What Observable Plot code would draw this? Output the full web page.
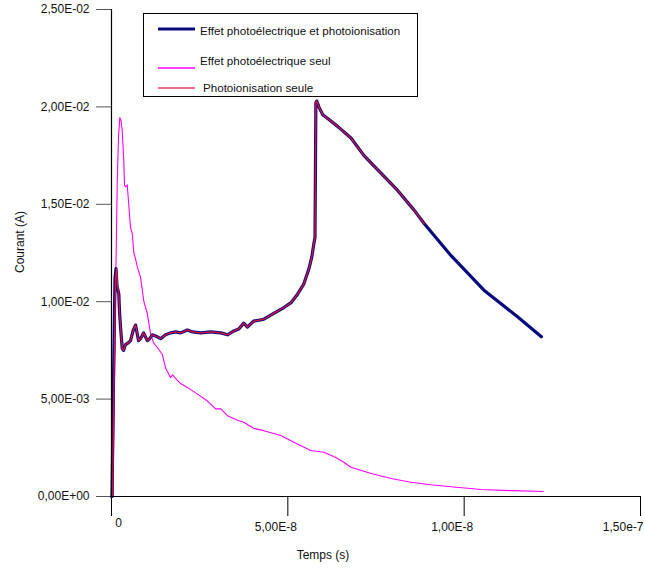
<!DOCTYPE html>
<html>
<head>
<meta charset="utf-8">
<script src="https://cdn.jsdelivr.net/npm/d3@7"></script>
<script src="https://cdn.jsdelivr.net/npm/@observablehq/plot@0.6"></script>
<style>
  html, body { margin: 0; padding: 0; background: #fff; }
  svg { font-family: "Liberation Sans", Arial, sans-serif; }
</style>
</head>
<body>
<div id="chart"></div>
<script>
// Time in nanoseconds, current in amperes
const combinedT = [0, 0.14, 0.57, 0.99, 1.28, 1.56, 2.07, 2.27, 2.56, 3.04, 3.41, 3.98, 4.83, 5.40, 6.11, 6.82, 7.24, 7.67, 8.24, 9.09, 10.14, 10.8, 11.56, 12.98, 13.92, 15.34, 16.76, 18.18, 19.6, 21.5, 23.0, 25.3, 28.1, 31.0, 32.9, 34.7, 36.1, 37.5, 38.55, 40.3, 43.2, 46.0, 48.9, 50.9, 52.8, 54.5, 56.0, 56.8, 57.4, 57.7, 57.95, 58.2, 58.8, 59.9, 61.3, 64.1, 67.9, 71.6, 76.4, 81.2, 85.8, 88.7, 96.3, 105.8, 115.3, 121.9];
const combinedI = [0, 0, 0.0060, 0.0112, 0.0117, 0.0108, 0.0104, 0.0095, 0.0087, 0.0076, 0.0075, 0.0078, 0.0079, 0.0080, 0.0085, 0.0088, 0.0084, 0.0080, 0.0081, 0.0084, 0.0080, 0.0081, 0.0083, 0.0082, 0.0081, 0.0083, 0.0084, 0.00845, 0.0084, 0.00855, 0.00845, 0.0084, 0.00845, 0.0084, 0.0083, 0.0085, 0.0086, 0.0089, 0.0087, 0.0090, 0.0091, 0.0094, 0.0097, 0.00995, 0.0104, 0.0109, 0.0117, 0.0123, 0.0130, 0.0133, 0.0202, 0.0203, 0.0200, 0.0196, 0.0194, 0.0190, 0.0184, 0.0175, 0.0166, 0.0157, 0.0147, 0.0140, 0.01236, 0.01056, 0.0092, 0.0082];

const photoionT = [0.28, 0.71, 1.13, 1.42, 1.70, 2.07, 2.27, 2.56, 3.04, 3.41, 3.98, 4.83, 5.40, 6.11, 6.82, 7.24, 7.67, 8.24, 9.09, 10.14, 10.8, 11.56, 12.98, 13.92, 15.34, 16.76, 18.18, 19.6, 21.5, 23.0, 25.3, 28.1, 31.0, 32.9, 34.7, 36.1, 37.5, 38.55, 40.3, 43.2, 46.0, 48.9, 50.9, 52.8, 54.5, 56.0, 56.8, 57.4, 57.7, 57.95, 58.2, 58.8, 59.9, 61.3, 64.1, 67.9, 71.6, 76.4, 81.2, 85.8, 88.7];
const photoionI = [0, 0.0060, 0.0112, 0.0117, 0.0108, 0.0104, 0.0095, 0.0087, 0.0076, 0.0075, 0.0078, 0.0079, 0.0080, 0.0085, 0.0088, 0.0084, 0.0080, 0.0081, 0.0084, 0.0080, 0.0081, 0.0083, 0.0082, 0.0081, 0.0083, 0.0084, 0.00845, 0.0084, 0.00855, 0.00845, 0.0084, 0.00845, 0.0084, 0.0083, 0.0085, 0.0086, 0.0089, 0.0087, 0.0090, 0.0091, 0.0094, 0.0097, 0.00995, 0.0104, 0.0109, 0.0117, 0.0123, 0.0130, 0.0133, 0.0202, 0.0203, 0.0200, 0.0196, 0.0194, 0.0190, 0.0184, 0.0175, 0.0166, 0.0157, 0.0147, 0.0140];

const photoelecT = [0.43, 0.85, 1.28, 1.62, 1.99, 2.36, 2.7, 3.04, 3.49, 3.69, 3.98, 4.46, 4.97, 5.40, 5.88, 6.34, 6.82, 7.30, 8.24, 9.18, 10.14, 11.08, 11.9, 12.98, 14.4, 15.34, 16.76, 17.3, 18.5, 19.6, 21.5, 24.3, 27.2, 29.5, 31.0, 32.9, 35.2, 37.5, 40.3, 43.2, 48.0, 51.7, 56.5, 60.2, 63.6, 65.9, 67.9, 73.6, 79.3, 84.9, 90.6, 96.3, 104.8, 113.4, 122.4];
const photoelecI = [0, 0.0060, 0.0120, 0.0160, 0.0185, 0.01945, 0.0193, 0.0188, 0.0172, 0.0160, 0.0159, 0.0160, 0.0148, 0.0138, 0.0135, 0.0125, 0.0122, 0.0118, 0.01125, 0.0100, 0.0094, 0.00835, 0.0079, 0.00765, 0.0073, 0.0066, 0.0061, 0.00625, 0.0060, 0.0058, 0.0056, 0.00527, 0.0049, 0.0045, 0.0045, 0.00415, 0.00395, 0.00381, 0.0035, 0.00338, 0.00313, 0.00278, 0.00236, 0.00227, 0.0020, 0.00176, 0.0015, 0.00118, 0.00092, 0.00073, 0.0006, 0.0005, 0.00036, 0.0003, 0.00026];

const xTicks = [0, 50, 100, 150];
const xTickLabels = ["0", "5,00E-8", "1,00E-8", "1,50e-7"];
const yTicks = [0, 0.005, 0.01, 0.015, 0.02, 0.025];
const yTickLabels = ["0,00E+00", "5,00E-03", "1,00E-02", "1,50E-02", "2,00E-02", "2,50E-02"];

const legendNames = ["Effet photoélectrique et photoionisation", "Effet photoélectrique seul", "Photoionisation seule"];
const colors = ["#0a0a80", "#ff00ff", "#d8143c"];

const toRows = (T, I) => T.map((t, i) => ({t, v: I[i]}));
const combined = toRows(combinedT, combinedI);
const photoion = toRows(photoionT, photoionI);
const photoelec = toRows(photoelecT, photoelecI);

const plot = Plot.plot({
  width: 645,
  height: 568,
  marginLeft: 111,
  marginRight: 5,
  marginTop: 9,
  marginBottom: 72,
  x: {domain: [0, 150]},
  y: {domain: [0, 0.025]},
  style: {fontFamily: "Liberation Sans, Arial, sans-serif", fontSize: "12px", background: "#fff"},
  marks: [
    Plot.axisY({ticks: yTicks, tickFormat: d => yTickLabels[yTicks.indexOf(d)], tickSize: 15, tickPadding: 7, stroke: "#555", fill: "#111", fontSize: 12, label: null}),
    Plot.axisX({ticks: xTicks, tickFormat: () => "", tickSize: 20, stroke: "#000", label: null}),
    Plot.text(xTicks.slice(1, 3), {x: d => d, text: d => xTickLabels[xTicks.indexOf(d)], frameAnchor: "bottom", dy: 34, dx: -12, fontSize: 12, fill: "#111"}),
    Plot.text(xTicks.slice(3), {x: d => d, text: d => xTickLabels[xTicks.indexOf(d)], frameAnchor: "bottom", dy: 34, dx: 3, textAnchor: "end", fontSize: 12, fill: "#111"}),
    Plot.text(xTicks.slice(0, 1), {x: d => d, text: d => xTickLabels[xTicks.indexOf(d)], frameAnchor: "bottom", dy: 30, dx: 7, fontSize: 12, fill: "#111"}),
    Plot.text(["Temps (s)"], {frameAnchor: "bottom", dy: 62, dx: -53, fontSize: 12, fill: "#111"}),
    Plot.text(["Courant (A)"], {frameAnchor: "left", dx: -91, dy: 20, rotate: -90, fontSize: 12, fill: "#111"}),
    Plot.line(photoelec, {x: "t", y: "v", stroke: colors[1], strokeWidth: 1.1}),
    Plot.line(combined, {x: "t", y: "v", stroke: colors[0], strokeWidth: 3.2}),
    Plot.line(photoion, {x: "t", y: "v", stroke: colors[2], strokeWidth: 1.3}),
    Plot.ruleX([0], {stroke: "#000", strokeWidth: 1.2}),
    Plot.ruleY([0], {stroke: "#000", strokeWidth: 1.2})
  ]
});

// Legend box overlaid in upper area
const svg = d3.select(plot);
const lg = svg.append("g").attr("font-family", "Liberation Sans, Arial, sans-serif").attr("font-size", 11.6).attr("text-anchor", "start");
lg.append("rect").attr("x", 143.5).attr("y", 13.5).attr("width", 274).attr("height", 83)
  .attr("fill", "#fff").attr("stroke", "#000").attr("stroke-width", 1);
const lineY = [29, 68, 88];
const textY = [31, 61, 88];
const textX = [200, 200, 203];
const widths = [3.2, 1.3, 1.6];
const legColors = [colors[0], colors[1], "#e0405a"];
legendNames.forEach((name, i) => {
  lg.append("line").attr("x1", 158).attr("x2", 195).attr("y1", lineY[i]).attr("y2", lineY[i])
    .attr("stroke", legColors[i]).attr("stroke-width", widths[i]);
  lg.append("text").attr("x", textX[i]).attr("y", textY[i]).attr("dy", "0.35em")
    .attr("text-anchor", "start").attr("fill", "#111").text(name);
});

document.getElementById("chart").appendChild(plot);
</script>
</body>
</html>
